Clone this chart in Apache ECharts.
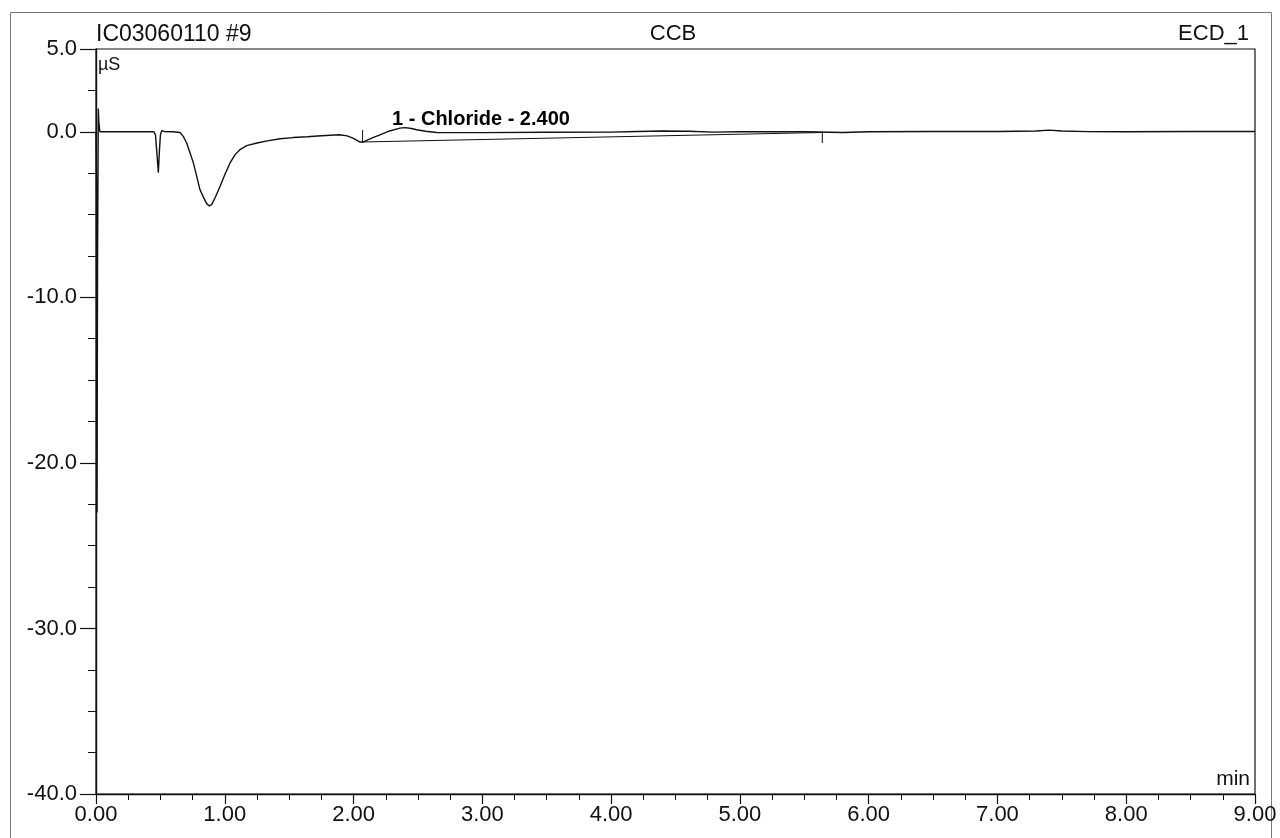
<!DOCTYPE html>
<html>
<head>
<meta charset="utf-8">
<script src="https://cdn.jsdelivr.net/npm/echarts@6/dist/echarts.min.js"></script>
<style>
  html, body { margin: 0; padding: 0; background: #fff; }
  #chart { width: 1280px; height: 838px; }
</style>
</head>
<body>
<div id="chart"></div>
<script>
// Conductivity trace (ECD_1), retention time in min, signal in µS
const timeMin = [
  0.000, 0.004, 0.008, 0.012, 0.018, 0.022, 0.030, 0.100, 0.300, 0.450,
  0.462, 0.475, 0.484, 0.492, 0.500, 0.510, 0.530, 0.600, 0.652, 0.678,
  0.704, 0.730, 0.756, 0.782, 0.807, 0.833, 0.859, 0.880, 0.898, 0.924,
  0.963, 1.000, 1.040, 1.080, 1.118, 1.170, 1.250, 1.330, 1.430, 1.530,
  1.640, 1.750, 1.890, 1.950, 2.000, 2.050, 2.080, 2.150, 2.200, 2.280,
  2.360, 2.400, 2.450, 2.490, 2.560, 2.645, 2.800, 3.000, 3.500, 4.000,
  4.200, 4.400, 4.600, 4.800, 5.000, 5.500, 5.800, 6.000, 6.500, 7.000,
  7.300, 7.400, 7.500, 7.700, 8.000, 8.500, 9.000
];
const signalUS = [
  0.00, -3.0, -23.0, -8.0, 1.40, 0.60, 0.00, 0.00, 0.00, 0.00,
  -0.20, -1.50, -2.47, -1.20, -0.20, 0.06, 0.02, 0.00, -0.04, -0.28,
  -0.68, -1.27, -1.88, -2.69, -3.49, -3.93, -4.34, -4.48, -4.40, -4.00,
  -3.30, -2.60, -1.90, -1.38, -1.08, -0.84, -0.68, -0.55, -0.42, -0.35,
  -0.30, -0.24, -0.18, -0.25, -0.40, -0.62, -0.60, -0.35, -0.20, 0.05,
  0.22, 0.25, 0.20, 0.12, 0.03, -0.04, -0.05, -0.05, -0.03, -0.02,
  0.02, 0.05, 0.03, -0.02, 0.00, 0.00, -0.04, 0.00, 0.02, 0.02,
  0.05, 0.10, 0.05, 0.01, 0.00, 0.02, 0.02
];

// Integration baseline of peak 1
const baselineTime = [2.06, 5.64];
const baselineUS = [-0.62, -0.04];

// Peak start / end delimiters
const delimTime = [2.07, 5.64];
const delimTop = [0.10, 0.00];
const delimBottom = [-0.62, -0.68];

// Peak annotation
const peakNumber = 1;
const peakName = 'Chloride';
const peakRt = 2.400;
const peakHeight = 0.25;

const xTicks = [0, 9, 1];      // min, max, interval
const yTicks = [-40, 5, 10];   // min, max, interval (labelled)
const yMinorStep = 2.5;

const FONT = '"Liberation Sans", Arial, sans-serif';
const INK = '#111';

const trace = timeMin.map((t, i) => [t, signalUS[i]]);
const baseline = baselineTime.map((t, i) => [t, baselineUS[i]]);

const delimSeries = delimTime.map((t, i) => ({
  type: 'line',
  data: [[t, delimTop[i]], [t, delimBottom[i]]],
  showSymbol: false,
  silent: true,
  lineStyle: { color: INK, width: 1 },
  animation: false
}));

const chart = echarts.init(document.getElementById('chart'), null, { renderer: 'canvas' });

chart.setOption({
  backgroundColor: '#fff',
  animation: false,
  grid: {
    left: 96, right: 25, top: 49, bottom: 44,
    show: true, borderColor: INK, borderWidth: 1.2, backgroundColor: 'transparent'
  },
  xAxis: {
    type: 'value',
    min: xTicks[0], max: xTicks[1], interval: xTicks[2],
    axisLine: { show: true, onZero: false, lineStyle: { color: INK, width: 1.4 } },
    axisTick: { show: true, inside: false, length: 10, lineStyle: { color: INK, width: 1.2 } },
    minorTick: { show: true, splitNumber: 4, length: 6, lineStyle: { color: INK, width: 1 } },
    axisLabel: {
      formatter: v => v.toFixed(2), fontSize: 22, fontFamily: FONT, color: INK, margin: 10,
      showMinLabel: true, showMaxLabel: true
    },
    splitLine: { show: false }
  },
  yAxis: [
    {
      type: 'value', position: 'left',
      min: yTicks[0], max: yTicks[1], interval: yTicks[2],
      axisLine: { show: true, onZero: false, lineStyle: { color: INK, width: 1.4 } },
      axisTick: { show: true, inside: false, length: 16, lineStyle: { color: INK, width: 1.2 } },
      axisLabel: {
        formatter: v => v.toFixed(1), fontSize: 22, fontFamily: FONT, color: INK, margin: 19,
        showMinLabel: true, showMaxLabel: true
      },
      splitLine: { show: false }
    },
    {
      type: 'value', position: 'left',
      min: yTicks[0], max: yTicks[1], interval: yMinorStep,
      axisLine: { show: false },
      axisTick: { show: true, inside: false, length: 8, lineStyle: { color: INK, width: 1 } },
      axisLabel: { show: false },
      splitLine: { show: false }
    }
  ],
  graphic: [
    {
      type: 'rect', silent: true, z: -10,
      shape: { x: 10.5, y: 12.5, width: 1261, height: 840 },
      style: { fill: 'none', stroke: '#777', lineWidth: 1 }
    },
    {
      type: 'text', left: 96, top: 23,
      style: { text: 'IC03060110 #9', font: '23px ' + FONT, fill: INK }
    },
    {
      type: 'text', x: 673, y: 23,
      style: { text: 'CCB', font: '22px ' + FONT, fill: INK, align: 'center' }
    },
    {
      type: 'text', right: 31, top: 23,
      style: { text: 'ECD_1', font: '22px ' + FONT, fill: INK }
    },
    {
      type: 'text', left: 98, top: 56,
      style: { text: 'µS', font: '18px ' + FONT, fill: INK }
    },
    {
      type: 'text', right: 30, top: 769,
      style: { text: 'min', font: '21px ' + FONT, fill: INK }
    }
  ],
  series: [
    {
      type: 'line',
      data: trace,
      showSymbol: false,
      clip: true,
      lineStyle: { color: INK, width: 1.4 },
      animation: false
    },
    {
      type: 'line',
      data: baseline,
      showSymbol: false,
      silent: true,
      lineStyle: { color: INK, width: 1.1 },
      animation: false
    },
    ...delimSeries,
    {
      type: 'scatter',
      data: [[peakRt, peakHeight]],
      symbolSize: 0,
      silent: true,
      itemStyle: { opacity: 1 },
      label: {
        show: true,
        position: 'top',
        align: 'left',
        distance: 0,
        offset: [-13, 2],
        formatter: () => `${peakNumber} - ${peakName} - ${peakRt.toFixed(3)}`,
        fontSize: 20,
        fontWeight: 'bold',
        fontFamily: FONT,
        color: '#000'
      },
      animation: false
    }
  ]
});
</script>
</body>
</html>
